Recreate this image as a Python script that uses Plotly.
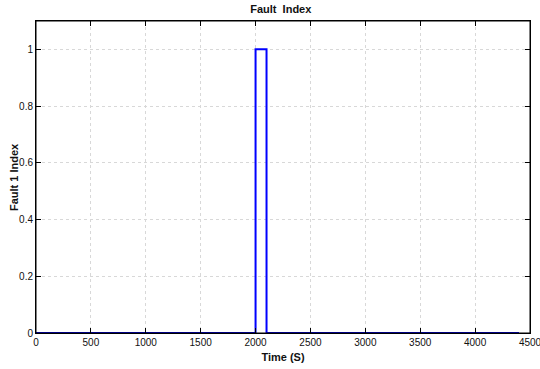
import plotly.graph_objects as go

time_s = [0, 2000, 2100, 4400]
fault_index = [0, 1, 0, 0]
x_ticks = [0, 500, 1000, 1500, 2000, 2500, 3000, 3500, 4000, 4500]
y_ticks = [0, 0.2, 0.4, 0.6, 0.8, 1]

fig = go.Figure()
fig.add_trace(go.Scatter(x=time_s, y=fault_index, mode="lines", line_shape="hv",
                         line=dict(color="#0000FF", width=2), showlegend=False, cliponaxis=False))

tickfont = dict(family="Liberation Sans, Arial, sans-serif", size=10, color="#111")
axis_common = dict(showline=True, linecolor="black", linewidth=1, mirror="ticks",
                   ticks="inside", ticklen=5, tickcolor="black", showgrid=True,
                   gridcolor="#d8d8d8", griddash="dot", gridwidth=1, zeroline=False,
                   automargin=False, tickfont=tickfont, ticklabeloverflow="allow")

fig.update_layout(
    width=540, height=369,
    margin=dict(l=36, r=10, t=21, b=36, autoexpand=False),
    paper_bgcolor="white", plot_bgcolor="white",
    font=tickfont,
    title=dict(text="<b>Fault  Index</b>", x=0.52, xanchor="center", y=0.985, yanchor="top",
               font=dict(size=11, color="#111")),
    xaxis=dict(range=[0, 4500], tickvals=x_ticks, ticktext=[str(v) for v in x_ticks],
               title=dict(text="<b>Time (S)</b>", standoff=6, font=dict(size=11, color="#111")),
               **axis_common),
    yaxis=dict(range=[0, 1.1], tickvals=y_ticks, ticktext=["0", "0.2", "0.4", "0.6", "0.8", "1"],
               **axis_common),
    shapes=[dict(type="rect", xref="paper", yref="paper", x0=0, y0=0, x1=1, y1=1,
                 line=dict(color="black", width=1), fillcolor="rgba(0,0,0,0)", layer="above")],
    annotations=[dict(text="<b>Fault 1 Index</b>", textangle=-90, xref="paper", yref="paper",
                      x=-0.0445, y=0.5, xanchor="center", yanchor="middle", showarrow=False,
                      font=dict(size=11, color="#111"))],
)

fig.write_html("out.html", config={"displayModeBar": False},
               post_script="document.body.style.margin='0';")
